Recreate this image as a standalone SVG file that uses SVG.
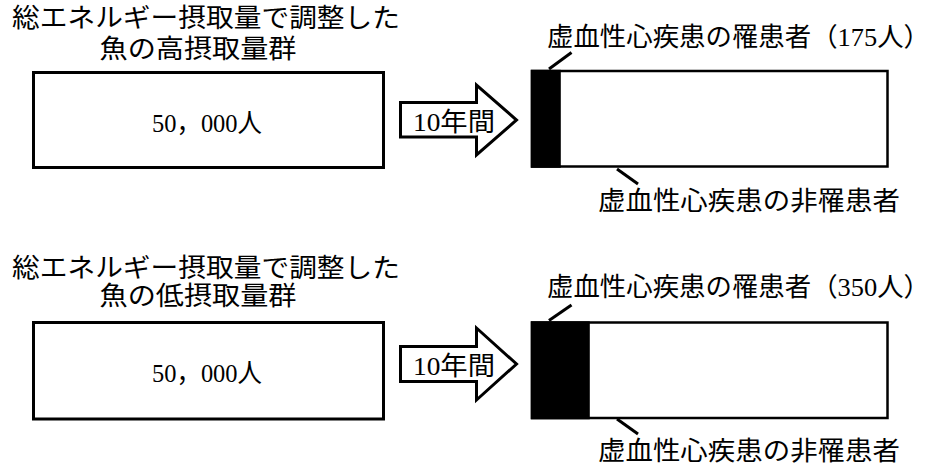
<svg xmlns="http://www.w3.org/2000/svg" width="938" height="466" viewBox="0 0 938 466">
<style>
text{font-family:"Liberation Serif","Noto Sans CJK JP",serif;fill:#000;font-size:26px}
.box{fill:#fff;stroke:#000;stroke-width:3}
.rbox{fill:#fff;stroke:#000;stroke-width:2.5}
.bar{fill:#000}
.lead{stroke:#000;stroke-width:3;fill:none}
.arrow{fill:#fff;stroke:#000;stroke-width:3;stroke-linejoin:miter}
</style>
<rect width="938" height="466" fill="#fff"/>
<g id="group-high">
<g id="high-title">
<text x="206" y="27" text-anchor="middle" textLength="388" lengthAdjust="spacingAndGlyphs">総エネルギー摂取量で調整した</text>
<text x="198" y="58" text-anchor="middle" textLength="197" lengthAdjust="spacingAndGlyphs">魚の高摂取量群</text>
</g>
<g id="high-box">
<rect class="box" x="33.5" y="72.5" width="350" height="95"/>
<text x="207" y="132" text-anchor="middle" textLength="110" lengthAdjust="spacingAndGlyphs">50，000人</text>
</g>
<g id="high-arrow">
<polygon class="arrow" points="400.5,102.5 476.5,102.5 476.5,85 516.5,120 476.5,155 476.5,137 400.5,137"/>
<text x="413" y="131" textLength="82" lengthAdjust="spacingAndGlyphs">10年間</text>
</g>
<g id="high-result">
<rect class="rbox" x="532" y="71" width="355.5" height="95.5"/>
<rect class="bar" x="530.8" y="69.8" width="30" height="98"/>
</g>
<g id="high-labels">
<text x="547" y="46" textLength="383" lengthAdjust="spacingAndGlyphs">虚血性心疾患の罹患者（175人）</text>
<text x="598" y="210" textLength="302" lengthAdjust="spacingAndGlyphs">虚血性心疾患の非罹患者</text>
</g>
</g>
<g id="group-low">
<g id="low-title">
<text x="206" y="277" text-anchor="middle" textLength="388" lengthAdjust="spacingAndGlyphs">総エネルギー摂取量で調整した</text>
<text x="198" y="305" text-anchor="middle" textLength="197" lengthAdjust="spacingAndGlyphs">魚の低摂取量群</text>
</g>
<g id="low-box">
<rect class="box" x="33.5" y="322.5" width="350" height="96.5"/>
<text x="207" y="382" text-anchor="middle" textLength="110" lengthAdjust="spacingAndGlyphs">50，000人</text>
</g>
<g id="low-arrow">
<polygon class="arrow" points="400.5,346.5 476.5,346.5 476.5,328 516.5,364 476.5,400 476.5,381.5 400.5,381.5"/>
<text x="413" y="375" textLength="82" lengthAdjust="spacingAndGlyphs">10年間</text>
</g>
<g id="low-result">
<rect class="rbox" x="532" y="322.5" width="355.5" height="95.5"/>
<rect class="bar" x="530.8" y="321.3" width="59" height="98"/>
</g>
<g id="low-labels">
<text x="547" y="296" textLength="383" lengthAdjust="spacingAndGlyphs">虚血性心疾患の罹患者（350人）</text>
<text x="598" y="460" textLength="302" lengthAdjust="spacingAndGlyphs">虚血性心疾患の非罹患者</text>
</g>
</g>
<g id="connectors">
<line class="lead" x1="549" y1="69" x2="571.5" y2="52.5"/>
<line class="lead" x1="617" y1="169" x2="638" y2="184"/>
<line class="lead" x1="549" y1="320.5" x2="571.5" y2="305"/>
<line class="lead" x1="617" y1="419" x2="638" y2="434"/>
</g>
</svg>
